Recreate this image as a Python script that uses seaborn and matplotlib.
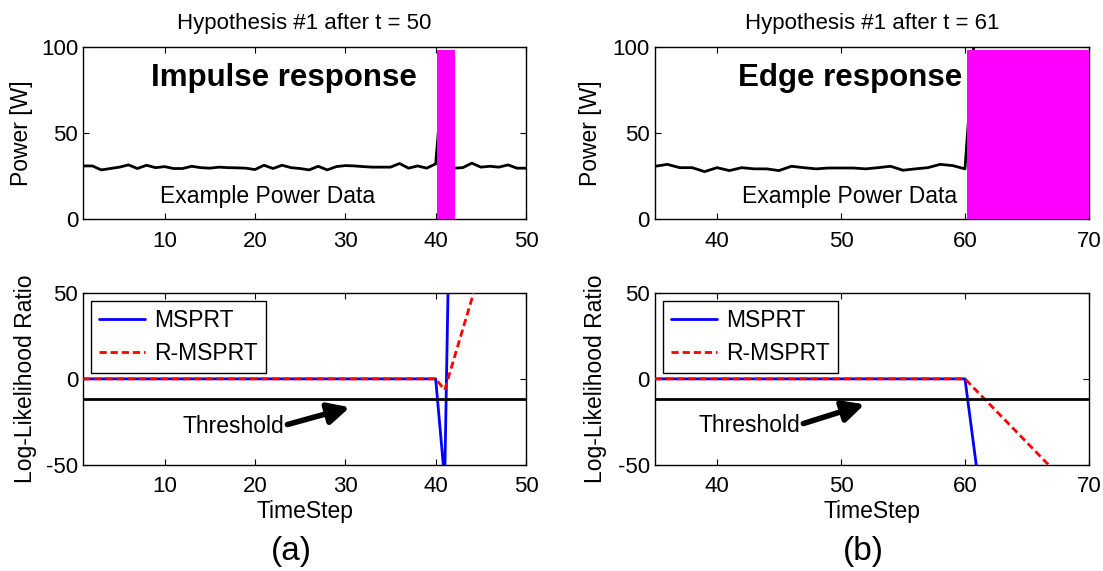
import numpy as np
import pandas as pd
import matplotlib
matplotlib.use("Agg")
import matplotlib.pyplot as plt
import seaborn as sns

# ---------------- data ----------------
t_impulse = list(range(1, 51))
power_impulse = [31, 31, 28.7, 29.5, 30.3, 31.6, 29.5, 31.4, 30, 30.6,
                 29.5, 29.5, 30.8, 30, 29.7, 30.3, 30, 29.9, 29.7, 28.9,
                 31.4, 29.5, 31.4, 30, 29.5, 28.7, 30.8, 28.7, 30.6, 31.2,
                 31, 30.6, 30.3, 30.3, 30.3, 32.4, 29.7, 31, 29.7, 32.2,
                 95, 29.7, 30, 32.6, 30.3, 30.8, 30.3, 31.6, 29.7, 29.7]
impulse_span_x = [40.2, 42.1]
impulse_span_h = [98, 98]

t_edge = list(range(35, 62))
power_edge = [30.8, 31.9, 30, 30, 27.7, 30, 28.3, 30, 29.3, 29.3,
              28.3, 30.8, 30, 29.3, 29.8, 29.8, 29.8, 29.3, 30, 30.8,
              28.5, 29.3, 30, 31.9, 31.2, 29.3, 130]
edge_span_x = [60.14, 70]
edge_span_h = [98, 98]

llr_t_impulse_m = list(range(1, 43))
msprt_impulse = [0] * 40 + [-59, 240]
llr_t_impulse_r = list(range(1, 46))
rmsprt_impulse = [0] * 40 + [-6.4, 11.2, 28.8, 46.4, 64]

llr_t_edge_m = list(range(35, 63))
msprt_edge = [0] * 26 + [-55, -110]
llr_t_edge_r = list(range(35, 69))
rmsprt_edge = [0] * 26 + [-7.4, -14.8, -22.2, -29.6, -37, -44.4, -51.8, -59.2]

threshold = -11.5

titles = ["Hypothesis #1 after t = 50", "Hypothesis #1 after t = 61"]
responses = ["Impulse response", "Edge response"]
panel_tags = ["(a)", "(b)"]

# ---------------- style ----------------
sns.set_style("ticks")
plt.rcParams.update({
    "font.family": ["Liberation Sans", "DejaVu Sans"],
    "font.size": 16,
    "axes.unicode_minus": False,
    "xtick.direction": "in",
    "ytick.direction": "in",
    "xtick.top": True,
    "ytick.right": True,
    "xtick.major.size": 4,
    "ytick.major.size": 4,
    "xtick.major.pad": 8,
    "ytick.major.pad": 3.6,
    "xtick.labelsize": 16,
    "ytick.labelsize": 16,
    "axes.linewidth": 1.0,
    "axes.edgecolor": "black",
    "xtick.color": "black",
    "ytick.color": "black",
    "text.color": "black",
    "axes.labelcolor": "black",
})

fig = plt.figure(figsize=(11.03, 5.71), dpi=100)
ax_tl = fig.add_axes([0.0755, 0.6156, 0.4014, 0.3026])
ax_tr = fig.add_axes([0.5938, 0.6156, 0.3935, 0.3026])
ax_bl = fig.add_axes([0.0755, 0.1856, 0.4014, 0.3018])
ax_br = fig.add_axes([0.5938, 0.1856, 0.3935, 0.3018])

magenta = "#ff00ff"
lw = 2.0
dash = (2.6, 1.4)

# ---------- top panels ----------
for ax, tt, pw, sx, sh, xl, xt, title, resp, rx in [
        (ax_tl, t_impulse, power_impulse, impulse_span_x, impulse_span_h,
         (1, 50), [10, 20, 30, 40, 50], titles[0], responses[0], 23.2),
        (ax_tr, t_edge, power_edge, edge_span_x, edge_span_h,
         (35, 70), [40, 50, 60, 70], titles[1], responses[1], 50.7)]:
    df = pd.DataFrame({"t": tt, "p": pw})
    sns.lineplot(data=df, x="t", y="p", ax=ax, color="black", lw=lw, zorder=2)
    ax.fill_between(sx, 0, sh, color=magenta, lw=0, zorder=3)
    ax.set_xlim(*xl)
    ax.set_ylim(0, 100)
    ax.set_xticks(xt)
    ax.set_yticks([0, 50, 100])
    ax.set_xlabel("")
    ax.set_ylabel("Power [W]", fontsize=16.5)
    ax.set_title(title, fontsize=16, pad=13)
    ax.text(rx, 82, resp, fontsize=22.5, fontweight="bold",
            ha="center", va="center", zorder=4)
    ax.text(rx - (1.8 if ax is ax_tl else 0), 13.5, "Example Power Data",
            fontsize=16.5, ha="center", va="center", zorder=4)

ax_tl.yaxis.set_label_coords(-0.113, 0.5)
ax_tr.yaxis.set_label_coords(-0.122, 0.5)

# ---------- bottom panels ----------
for ax, tm, ym, tr, yr, xl, xt, tip, txt_xy in [
        (ax_bl, llr_t_impulse_m, msprt_impulse, llr_t_impulse_r, rmsprt_impulse,
         (1, 50), [10, 20, 30, 40, 50], (30.5, -16.5), (17.6, -27.7)),
        (ax_br, llr_t_edge_m, msprt_edge, llr_t_edge_r, rmsprt_edge,
         (35, 70), [40, 50, 60, 70], (51.9, -14.8), (42.6, -27.2))]:
    dm = pd.DataFrame({"t": tm, "v": ym})
    dr = pd.DataFrame({"t": tr, "v": yr})
    sns.lineplot(data=dm, x="t", y="v", ax=ax, color="#0000ff", lw=lw,
                 label="MSPRT", zorder=2)
    sns.lineplot(data=dr, x="t", y="v", ax=ax, color="#ff0000", lw=lw,
                 label="R-MSPRT", zorder=3)
    ax.lines[-1].set_dashes(dash)
    ax.axhline(threshold, color="black", lw=lw, zorder=4)
    ax.set_xlim(*xl)
    ax.set_ylim(-50, 50)
    ax.set_xticks(xt)
    ax.set_yticks([-50, 0, 50])
    ax.set_xlabel("TimeStep", fontsize=16.5, labelpad=2)
    ax.set_ylabel("Log-Likelihood Ratio", fontsize=16.5)
    ax.annotate("Threshold", xy=tip, xytext=txt_xy, fontsize=16.5,
                ha="center", va="center", zorder=5,
                arrowprops=dict(arrowstyle="-|>,head_length=0.8,head_width=0.4",
                                lw=4, color="black", mutation_scale=16,
                                shrinkA=0, shrinkB=0, relpos=(1.0, 0.55)))
    leg = ax.legend(loc="upper left", fontsize=16.5, frameon=True, fancybox=False,
                    framealpha=1, edgecolor="black", borderaxespad=0.35,
                    handlelength=2.0, handletextpad=0.4, labelspacing=0.45,
                    borderpad=0.35)
    leg.get_frame().set_linewidth(1.0)
    for h in leg.get_lines():
        h.set_linewidth(lw)
    leg.get_lines()[1].set_dashes(dash)

ax_bl.yaxis.set_label_coords(-0.105, 0.5)
ax_br.yaxis.set_label_coords(-0.11, 0.5)

fig.text(291 / 1103, 1 - 551.7 / 571, panel_tags[0], fontsize=24,
         ha="center", va="center")
fig.text(863 / 1103, 1 - 551.7 / 571, panel_tags[1], fontsize=24,
         ha="center", va="center")

fig.savefig("out.png", dpi=100, facecolor="white")
